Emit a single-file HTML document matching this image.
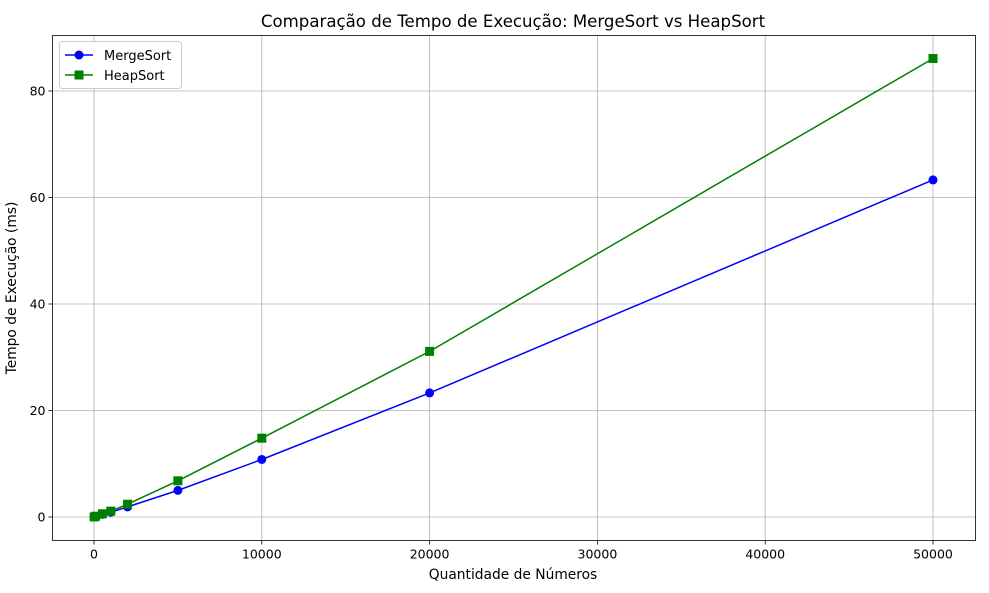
<!DOCTYPE html>
<html><head><meta charset="utf-8"><style>
body{margin:0;background:#fff;font-family:"Liberation Sans","DejaVu Sans",sans-serif;}
svg text{font-family:"DejaVu Sans","Liberation Sans",sans-serif;}
</style></head><body>
<svg id="chart" width="989" height="588" xmlns="http://www.w3.org/2000/svg">
<rect width="989" height="588" fill="#fff"/>
<g id="grid"></g><g id="axes"></g><g id="series"></g>
<text x="513" y="27" font-size="16.6" text-anchor="middle">Comparação de Tempo de Execução: MergeSort vs HeapSort</text>
<text x="513" y="579" font-size="13.8" text-anchor="middle">Quantidade de Números</text>
<text transform="translate(16,288) rotate(-90)" font-size="13.8" text-anchor="middle">Tempo de Execução (ms)</text>
<g>
<rect x="59.5" y="41.5" width="122" height="47" fill="#fff" stroke="#ccc" rx="3"/>
<line x1="65" y1="55" x2="93" y2="55" stroke="#0000ff" stroke-width="1.5"/><circle cx="79" cy="55" r="4.5" fill="#0000ff"/>
<text x="104" y="60" font-size="13">MergeSort</text>
<line x1="65" y1="75" x2="93" y2="75" stroke="#008000" stroke-width="1.5"/><rect x="74.5" y="70.5" width="9" height="9" fill="#008000"/>
<text x="104" y="80" font-size="13">HeapSort</text>
</g>
</svg>
<script>
const sizes=[10,100,500,1000,2000,5000,10000,20000,50000];
const mergeValues=[0.01,0.1,0.5,0.9,1.9,5.0,10.8,23.3,63.3];
const heapValues=[0.01,0.15,0.6,1.1,2.4,6.8,14.8,31.1,86.1];
const xTicks=[0,10000,20000,30000,40000,50000];
const yTicks=[0,20,40,60,80];
const L=52.5,R=975.5,T=35.5,B=540.5;
const xs=v=>94+v*(933-94)/50000;
const ys=v=>517-v*(517-91)/80;
const NS="http://www.w3.org/2000/svg";
function mk(tag,attrs,parent){const e=document.createElementNS(NS,tag);for(const k in attrs)e.setAttribute(k,attrs[k]);document.getElementById(parent).appendChild(e);return e;}
xTicks.forEach(t=>{const x=xs(t);
const g=mk('line',{x1:x,x2:x,y1:T,y2:B,stroke:'#b0b0b0','stroke-width':0.8},'grid');


mk('line',{x1:x,x2:x,y1:B,y2:B+4,stroke:'#000','stroke-width':0.8},'axes');
const tx=mk('text',{x:x,y:B+18,'font-size':12.5,'text-anchor':'middle'},'axes');tx.textContent=t;

});
yTicks.forEach(t=>{const y=ys(t);
const g=mk('line',{x1:L,x2:R,y1:y,y2:y,stroke:'#b0b0b0','stroke-width':0.8},'grid');


mk('line',{x1:L-4,x2:L,y1:y,y2:y,stroke:'#000','stroke-width':0.8},'axes');
const tx=mk('text',{x:L-7,y:y+4.5,'font-size':12.5,'text-anchor':'end'},'axes');tx.textContent=t;

});
const fr=mk('rect',{x:L,y:T,width:R-L,height:B-T,fill:'none',stroke:'#000','stroke-width':0.8},'axes');


function series(vals,color,shape,name){
const p=mk('polyline',{points:sizes.map((s,i)=>xs(s)+','+ys(vals[i])).join(' '),fill:'none',stroke:color,'stroke-width':1.5},'series');


sizes.forEach((s,i)=>{let m;
if(shape==='c')m=mk('circle',{cx:xs(s),cy:ys(vals[i]),r:4.5,fill:color},'series');
else m=mk('rect',{x:xs(s)-4.5,y:ys(vals[i])-4.5,width:9,height:9,fill:color},'series');

});}
series(mergeValues,'#0000ff','c','mergesort');
series(heapValues,'#008000','s','heapsort');
</script>
</body></html>
